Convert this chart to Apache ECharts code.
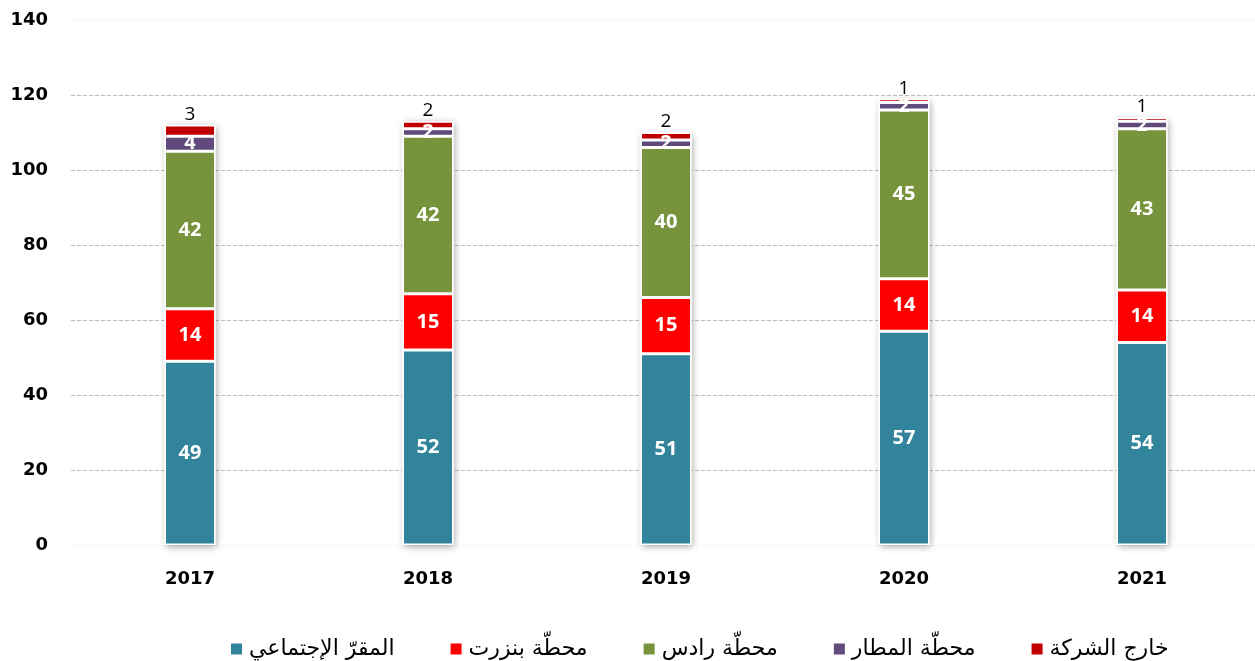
<!DOCTYPE html>
<html>
<head>
    <meta charset="utf-8">
    <title>chart</title>
    <script src="https://cdn.jsdelivr.net/npm/echarts@6/dist/echarts.min.js"></script>
    <style>
        html, body { margin: 0; padding: 0; background: #fff; }
        #main { width: 1255px; height: 661px; }
    </style>
</head>
<body>
    <div id="main"></div>
    <script>
        var years = ['2017', '2018', '2019', '2020', '2021'];
        var yTicks = [0, 20, 40, 60, 80, 100, 120, 140];
        // series names as in the legend
        var names = ['المقرّ الإجتماعي', 'محطّة بنزرت', 'محطّة رادس', 'محطّة المطار', 'خارج الشركة'];
        var hq = [49, 52, 51, 57, 54];
        var bizerte = [14, 15, 15, 14, 14];
        var rades = [42, 42, 40, 45, 43];
        var airport = [4, 2, 2, 2, 2];
        var outside = [3, 2, 2, 1, 1];
        var colors = ['#31849B', '#FF0000', '#77933C', '#604A7B', '#C00000'];

        var values = [hq, bizerte, rades, airport, outside];
        var totals = years.map(function (y, i) {
            return hq[i] + bizerte[i] + rades[i] + airport[i] + outside[i];
        });

        var myChart = echarts.init(document.getElementById('main'));

        // white bar under the stack, only for the drop shadow
        var series = [{
            name: 'shadow',
            type: 'bar',
            data: totals,
            barWidth: 51,
            barGap: '-100%',
            z: 1,
            silent: true,
            itemStyle: { color: '#fff', shadowBlur: 7, shadowColor: 'rgba(0,0,0,0.35)', shadowOffsetX: 1, shadowOffsetY: 2 },
            label: { show: false }
        }];
        for (var s = 0; s < 5; s++) {
            var last = s == 4;
            series.push({
                name: names[s],
                type: 'bar',
                stack: 'total',
                barWidth: 51,
                z: 2,
                data: values[s],
                itemStyle: { color: colors[s], borderColor: '#fff', borderWidth: 1.5 },
                label: last ? {
                    show: true, position: 'top', distance: 1, color: '#000',
                    fontSize: 19, fontFamily: 'Open Sans'
                } : {
                    show: true, position: 'inside', color: '#fff',
                    fontSize: 20, fontWeight: 'bold', fontFamily: 'Open Sans'
                }
            });
        }

        var option = {
            animation: false,
            grid: { left: 71, width: 1190, top: 20, bottom: 116, outerBoundsMode: 'none' },
            legend: {
                data: names,
                top: 633,
                left: 224,
                itemGap: 54,
                itemWidth: 13,
                itemHeight: 13,
                icon: 'rect',
                textStyle: { fontSize: 22, color: '#000', fontFamily: 'DejaVu Sans', padding: [0, 0, 0, 1] }
            },
            xAxis: {
                type: 'category',
                data: years,
                axisLine: { show: false },
                axisTick: { show: false },
                axisLabel: { fontSize: 18, fontWeight: 'bold', color: '#000', margin: 25, fontFamily: 'DejaVu Sans' }
            },
            yAxis: {
                type: 'value',
                min: yTicks[0],
                max: yTicks[yTicks.length - 1],
                interval: 20,
                axisLine: { show: false },
                axisTick: { show: false },
                axisLabel: { fontSize: 18, fontWeight: 'bold', color: '#000', margin: 23, fontFamily: 'DejaVu Sans' },
                splitLine: {
                    lineStyle: {
                        type: 'dashed',
                        color: ['#f2f2f2', '#bdbdbd', '#bdbdbd', '#bdbdbd', '#bdbdbd', '#bdbdbd', '#bdbdbd', '#f2f2f2']
                    }
                }
            },
            series: series
        };
        myChart.setOption(option);
    </script>
</body>
</html>
